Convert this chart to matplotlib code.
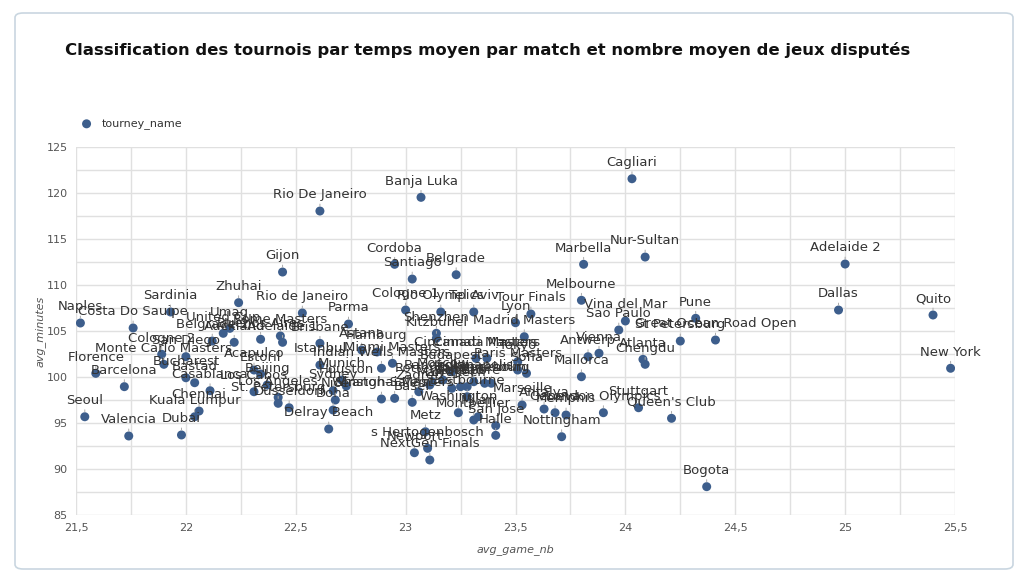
import matplotlib
matplotlib.use("Agg")
import matplotlib.pyplot as plt
from matplotlib.patches import FancyBboxPatch
from matplotlib.ticker import MultipleLocator, FuncFormatter

# Tournois
tourney_name = [
    "Naples", "Costa Do Sauipe", "Sardinia", "Florence", "Barcelona", "Seoul",
    "Valencia", "Dubai", "Cologne 2", "Monte Carlo Masters", "San Diego",
    "Bucharest", "Bastad", "Casablanca", "Chennai", "Kuala Lumpur", "Zhuhai",
    "Rio de Janeiro", "Gijon", "Rio De Janeiro", "Parma", "United Cup", "Umag",
    "Belgrade 2", "Auckland", "Buenos Aires", "Rome Masters", "Adelaide 1",
    "Brisbane", "Istanbul", "Acapulco", "Estoril", "Beijing", "Los Cabos",
    "Los Angeles", "St. Petersburg", "Dusseldorf", "Delray Beach", "Doha",
    "Nice", "Sydney", "Munich", "Houston", "Astana", "Hamburg",
    "Miami Masters", "Indian Wells Masters", "Winston-Salem",
    "Shanghai Masters", "Basel", "Metz", "s Hertogenbosch", "Newport",
    "NextGen Finals", "Banja Luka", "Cordoba", "Santiago", "Belgrade",
    "Cologne 1", "Rio Olympics", "Tel Aviv", "Lyon", "Tour Finals",
    "Shenzhen", "Kitzbuhel", "Madrid Masters", "Cincinnati Masters",
    "Canada Masters", "Tokyo", "Paris Masters", "Sofia", "Budapest",
    "Bangkok", "Stockholm", "Singapore", "Moscow", "Rotterdam", "Zagreb",
    "Marrakech", "Johannesburg", "Gstaad", "Eastbourne", "Indianapolis",
    "Washington", "Montpellier", "Milan", "San Jose", "Halle", "Marseille",
    "Antalya", "Geneva", "Memphis", "Nottingham", "London Olympics",
    "Stuttgart", "Queen's Club", "Bogota", "New York", "Quito", "Adelaide 2",
    "Dallas", "Cagliari", "Nur-Sultan", "Marbella", "Melbourne",
    "Vina del Mar", "Sao Paulo", "Pune", "St Petersburg",
    "Great Ocean Road Open", "Vienna", "Antwerp", "Atlanta", "Chengdu",
    "Mallorca",
]

avg_game_nb = [
    21.52, 21.76, 21.93, 21.59, 21.72, 21.54,
    21.74, 21.98, 21.89, 21.90, 22.00,
    22.00, 22.04, 22.11, 22.06, 22.04, 22.24,
    22.53, 22.44, 22.61, 22.74, 22.17, 22.20,
    22.12, 22.22, 22.34, 22.43, 22.44,
    22.61, 22.61, 22.31, 22.34, 22.37, 22.31,
    22.42, 22.42, 22.47, 22.65, 22.67,
    22.68, 22.67, 22.71, 22.73, 22.80, 22.87,
    22.94, 22.89, 22.89,
    22.95, 23.03, 23.09, 23.10, 23.04,
    23.11, 23.07, 22.95, 23.03, 23.23,
    23.00, 23.16, 23.31, 23.50, 23.57,
    23.14, 23.14, 23.54, 23.32,
    23.37, 23.51, 23.51, 23.55, 23.21,
    23.12, 23.39, 23.28, 23.17, 23.11, 23.06,
    23.21, 23.36, 23.25, 23.28, 23.31,
    23.24, 23.31, 23.33, 23.41, 23.41, 23.53,
    23.63, 23.68, 23.73, 23.71, 23.90,
    24.06, 24.21, 24.37, 25.48, 25.40, 25.00,
    24.97, 24.03, 24.09, 23.81, 23.80,
    24.00, 23.97, 24.32, 24.25,
    24.41, 23.88, 23.83, 24.08, 24.09,
    23.80,
]

avg_minutes = [
    105.87, 105.33, 107.07, 100.40, 98.95, 95.68,
    93.59, 93.70, 102.47, 101.38, 102.21,
    99.92, 99.38, 98.51, 96.30, 95.68, 108.08,
    106.96, 111.41, 118.04, 105.76, 104.75, 105.29,
    103.91, 103.77, 104.10, 104.46, 103.77,
    103.66, 101.30, 100.76, 100.33, 99.13, 98.40,
    97.79, 97.14, 96.66, 94.35, 96.41,
    97.50, 98.51, 99.67, 99.02, 102.93, 102.72,
    101.49, 100.95, 97.61,
    97.68, 97.25, 94.05, 92.25, 91.77,
    90.98, 119.53, 112.25, 110.65, 111.12,
    107.28, 107.07, 107.07, 105.90, 106.85,
    104.75, 104.21, 104.38, 102.03,
    102.03, 101.66, 100.76, 100.40, 100.58,
    99.49, 99.32, 98.95, 99.67, 99.13, 98.40,
    98.77, 99.32, 98.95, 97.86, 99.49,
    96.12, 95.33, 95.68, 94.71, 93.66, 96.96,
    96.52, 96.12, 95.87, 93.51, 96.12,
    96.66, 95.51, 88.08, 100.95, 106.74, 112.28,
    107.28, 121.55, 113.04, 112.25, 108.34,
    106.09, 105.11, 106.38, 103.91,
    104.02, 102.58, 102.21, 101.92, 101.38,
    100.03,
]

dot_color = "#3d5e8c"
text_color = "#333333"
grid_color = "#e0e0e0"

fig = plt.figure(figsize=(10.24, 5.83), dpi=100)
fig.patch.set_facecolor("white")

# cadre arrondi autour du graphique
card = FancyBboxPatch((15 / 1024, 14 / 583), 998 / 1024, 556 / 583,
                      boxstyle="round,pad=0,rounding_size=0.008",
                      transform=fig.transFigure, facecolor="white",
                      edgecolor="#c9d6e0", linewidth=1.2, zorder=-10)
fig.patches.append(card)

ax = fig.add_axes([76 / 1024, 1 - 515 / 583, (955 - 76) / 1024, (515 - 147) / 583])

ax.scatter(avg_game_nb, avg_minutes, s=42, color=dot_color, zorder=3,
           label="tourney_name", edgecolors="none")

for name, gx, gy in zip(tourney_name, avg_game_nb, avg_minutes):
    ax.annotate(name, (gx, gy), xytext=(0, 7), textcoords="offset points",
                ha="center", va="bottom", fontsize=9.5, color=text_color,
                zorder=4,
                arrowprops=dict(arrowstyle="-", color="#aaaaaa", lw=0.7,
                                shrinkA=0, shrinkB=3.5))

ax.set_xlim(21.5, 25.5)
ax.set_ylim(85, 125)
ax.xaxis.set_major_locator(MultipleLocator(0.5))
ax.xaxis.set_minor_locator(MultipleLocator(0.25))
ax.yaxis.set_major_locator(MultipleLocator(5))
ax.yaxis.set_minor_locator(MultipleLocator(2.5))
ax.xaxis.set_major_formatter(FuncFormatter(lambda v, p: f"{v:g}".replace(".", ",")))
ax.grid(True, which="both", color=grid_color, linewidth=1, zorder=0)
ax.set_axisbelow(True)
for sp in ax.spines.values():
    sp.set_visible(False)
ax.tick_params(which="both", length=0, labelsize=8, colors="#555555", pad=6)

ax.set_xlabel("avg_game_nb", fontsize=8, style="italic", color="#555555", labelpad=8)
ax.set_ylabel("avg_minutes", fontsize=8, style="italic", color="#555555", labelpad=1)

leg = ax.legend(loc="lower left", bbox_to_anchor=(-0.012, 1.02), frameon=False,
                fontsize=8, handletextpad=0.4, markerscale=1.0)
for t in leg.get_texts():
    t.set_color(text_color)

fig.text(65 / 1024, 1 - 50 / 583,
         "Classification des tournois par temps moyen par match et nombre moyen de jeux disputés",
         fontsize=11.85, fontweight="bold", color="#111111", va="center", ha="left")

fig.savefig("out.png", dpi=100)
